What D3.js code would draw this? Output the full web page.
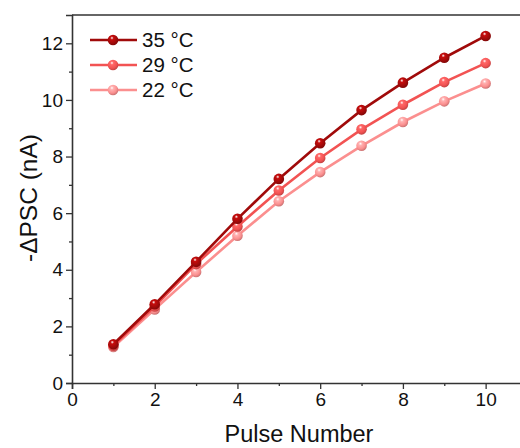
<!DOCTYPE html>
<html>
<head>
<meta charset="utf-8">
<script src="https://cdn.jsdelivr.net/npm/d3@7"></script>
<style>
  body { margin: 0; background: #fff; }
  text { font-family: "Liberation Sans", Arial, sans-serif; }
</style>
</head>
<body>
<div id="chart"></div>
<script>
// data
var pulses = [1, 2, 3, 4, 5, 6, 7, 8, 9, 10];
var psc35 = [1.37, 2.78, 4.28, 5.8, 7.21, 8.47, 9.64, 10.61, 11.49, 12.26];
var psc29 = [1.32, 2.7, 4.2, 5.53, 6.8, 7.95, 8.96, 9.83, 10.63, 11.3];
var psc22 = [1.27, 2.6, 3.92, 5.2, 6.42, 7.45, 8.38, 9.22, 9.95, 10.58];
var seriesNames = ["35 °C", "29 °C", "22 °C"];
var seriesColors = ["#a00a0a", "#f25353", "#fb8f8f"];
var xTicks = [0, 2, 4, 6, 8, 10];
var yTicks = [0, 2, 4, 6, 8, 10, 12];

var w = 520, h = 448;
var mLeft = 72, mTop = 15, mBottom = 383, mRight = 527;

var svg = d3.select("#chart").append("svg")
  .attr("width", w).attr("height", h);

var x = d3.scaleLinear().domain([0, 11]).range([mLeft, mRight]);
var y = d3.scaleLinear().domain([0, 13]).range([mBottom, mTop]);

// sphere-like gradients for the markers
var defs = svg.append("defs");
seriesColors.forEach(function(c, i) {
  var g = defs.append("radialGradient")
    .attr("id", "ball" + i)
    .attr("cx", "40%").attr("cy", "35%").attr("r", "65%")
    .attr("fx", "40%").attr("fy", "30%");
  g.append("stop").attr("offset", "0%").attr("stop-color", "#ffffff");
  g.append("stop").attr("offset", "25%").attr("stop-color", d3.color(c).brighter(0.6));
  g.append("stop").attr("offset", "70%").attr("stop-color", c);
  g.append("stop").attr("offset", "100%").attr("stop-color", d3.color(c).darker(0.6));
});

var axisColor = "#333";

// frame top line
svg.append("line")
  .attr("x1", mLeft).attr("x2", w)
  .attr("y1", mTop).attr("y2", mTop)
  .attr("stroke", axisColor).attr("stroke-width", 1.6);

// x axis
svg.append("g")
  .attr("transform", "translate(0," + mBottom + ")")
  .call(d3.axisBottom(x).tickValues(xTicks).tickSize(6).tickPadding(4));
svg.append("g")
  .attr("transform", "translate(0," + mBottom + ")")
  .call(d3.axisBottom(x).tickValues([1, 3, 5, 7, 9, 11]).tickSize(3).tickFormat(""))
  .call(function(g) { g.select(".domain").remove(); });

// y axis
svg.append("g")
  .attr("transform", "translate(" + mLeft + ",0)")
  .call(d3.axisLeft(y).tickValues(yTicks).tickSize(6).tickPadding(3));
svg.append("g")
  .attr("transform", "translate(" + mLeft + ",0)")
  .call(d3.axisLeft(y).tickValues([1, 3, 5, 7, 9, 11]).tickSize(3).tickFormat(""))
  .call(function(g) { g.select(".domain").remove(); });

svg.selectAll(".domain").attr("stroke", axisColor).attr("stroke-width", 1.6);
svg.selectAll(".tick line").attr("stroke", axisColor).attr("stroke-width", 1.3);
svg.selectAll(".tick text")
  .style("font-size", "19px")
  .attr("fill", "#111")
  .style("font-family", "Liberation Sans, Arial, sans-serif");

// axis titles
svg.append("text")
  .text("Pulse Number")
  .attr("x", 299).attr("y", 442)
  .attr("text-anchor", "middle")
  .style("font-size", "23.5px")
  .attr("fill", "#111");

svg.append("text")
  .text("-ΔPSC (nA)")
  .attr("transform", "translate(37,198) rotate(-90)")
  .attr("text-anchor", "middle")
  .style("font-size", "24.5px")
  .attr("fill", "#111");

// series
var allSeries = [psc35, psc29, psc22];
var line = d3.line()
  .x(function(d, i) { return x(pulses[i]); })
  .y(function(d) { return y(d); });

// draw the lowest first so the 35 °C one is on top
for (var s = allSeries.length - 1; s >= 0; s--) {
  svg.append("path")
    .datum(allSeries[s])
    .attr("d", line)
    .attr("fill", "none")
    .attr("stroke", seriesColors[s])
    .attr("stroke-width", 2.6);

  svg.selectAll(".dot" + s)
    .data(allSeries[s])
    .enter()
    .append("circle")
    .attr("class", "dot" + s)
    .attr("cx", function(d, i) { return x(pulses[i]); })
    .attr("cy", function(d) { return y(d); })
    .attr("r", 5.3)
    .attr("fill", "url(#ball" + s + ")");
}

// legend
for (var k = 0; k < seriesNames.length; k++) {
  var ly = 40 + k * 25;
  svg.append("line")
    .attr("x1", 90).attr("x2", 137)
    .attr("y1", ly).attr("y2", ly)
    .attr("stroke", seriesColors[k])
    .attr("stroke-width", 2.6);
  svg.append("circle")
    .attr("cx", 113).attr("cy", ly).attr("r", 5.3)
    .attr("fill", "url(#ball" + k + ")");
  svg.append("text")
    .text(seriesNames[k])
    .attr("x", 142).attr("y", ly + 6.5)
    .style("font-size", "20.5px")
    .attr("fill", "#111");
}
</script>
</body>
</html>
